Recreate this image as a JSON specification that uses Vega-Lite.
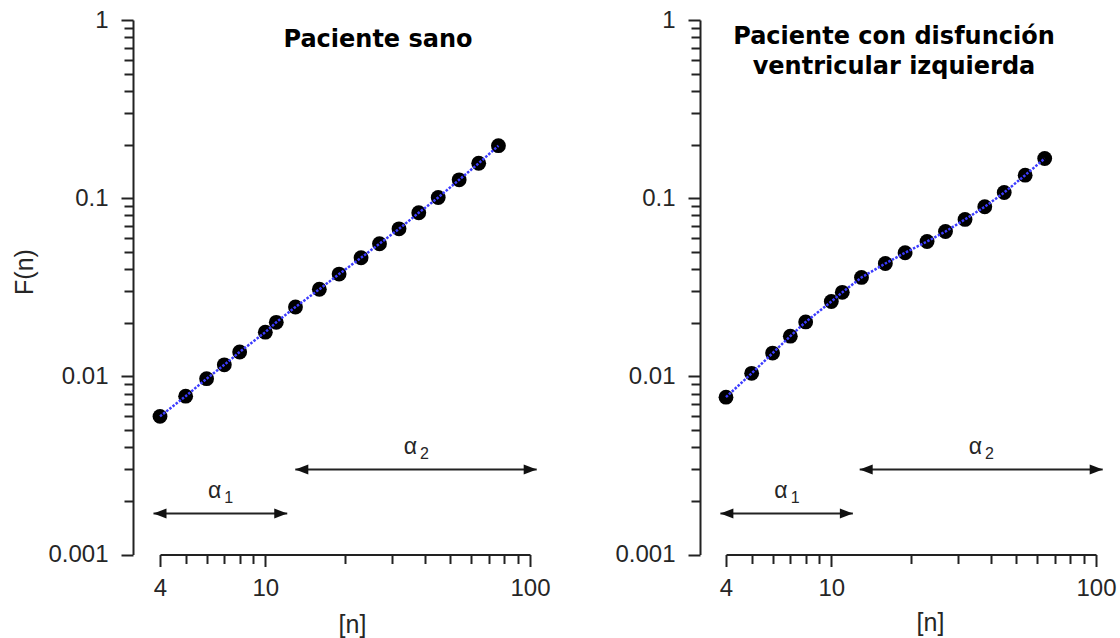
{
  "$schema": "https://vega.github.io/schema/vega-lite/v6.json",
  "background": "white",
  "padding": {"left": 12, "top": 8, "right": 0, "bottom": 0},
  "bounds": "flush",
  "spacing": 196,
  "config": {
    "view": {"stroke": null},
    "axis": {
      "grid": false,
      "domainColor": "#222222",
      "domainWidth": 2,
      "tickColor": "#222222",
      "tickWidth": 2,
      "labelFont": "Liberation Sans",
      "labelFontSize": 24,
      "labelColor": "#262626",
      "labelOverlap": false,
      "labelFlush": false,
      "labelBound": false,
      "titleFont": "Liberation Sans",
      "titleFontSize": 25,
      "titleFontWeight": "normal",
      "titleColor": "#262626"
    },
    "title": {
      "font": "DejaVu Sans",
      "fontSize": 24,
      "fontWeight": "bold",
      "color": "#000000",
      "anchor": "middle",
      "baseline": "alphabetic",
      "offset": 0,
      "lineHeight": 30
    }
  },
  "datasets": {
    "sano": [
      {"n": 4, "F": 0.00596}, {"n": 5, "F": 0.00774}, {"n": 6, "F": 0.0097},
      {"n": 7, "F": 0.0116}, {"n": 8, "F": 0.0137}, {"n": 10, "F": 0.0177},
      {"n": 11, "F": 0.0201}, {"n": 13, "F": 0.0245}, {"n": 16, "F": 0.0308},
      {"n": 19, "F": 0.0375}, {"n": 23, "F": 0.0463}, {"n": 27, "F": 0.0555},
      {"n": 32, "F": 0.0673}, {"n": 38, "F": 0.0828}, {"n": 45, "F": 0.1009},
      {"n": 54, "F": 0.1268}, {"n": 64, "F": 0.157}, {"n": 76, "F": 0.197}
    ],
    "disfuncion": [
      {"n": 4, "F": 0.00764}, {"n": 5, "F": 0.0104}, {"n": 6, "F": 0.0135},
      {"n": 7, "F": 0.0168}, {"n": 8, "F": 0.0202}, {"n": 10, "F": 0.0263},
      {"n": 11, "F": 0.0296}, {"n": 13, "F": 0.0359}, {"n": 16, "F": 0.043},
      {"n": 19, "F": 0.0494}, {"n": 23, "F": 0.0571}, {"n": 27, "F": 0.065},
      {"n": 32, "F": 0.076}, {"n": 38, "F": 0.0895}, {"n": 45, "F": 0.1076},
      {"n": 54, "F": 0.1346}, {"n": 64, "F": 0.167}
    ],
    "rangos_sano": [
      {"desde": 3.78, "hasta": 12.1, "F": 0.0017, "centro": 6.76, "sub": "1"},
      {"desde": 12.98, "hasta": 106, "F": 0.003, "centro": 37.1, "sub": "2"}
    ],
    "rangos_disfuncion": [
      {"desde": 3.81, "hasta": 12.06, "F": 0.0017, "centro": 6.78, "sub": "1"},
      {"desde": 12.8, "hasta": 106, "F": 0.003, "centro": 36.8, "sub": "2"}
    ]
  },
  "hconcat": [
    {
      "width": 370,
      "height": 534.5,
      "title": {"text": "Paciente sano", "dx": 33, "dy": 48},
      "layer": [
        {
          "data": {"name": "sano"},
          "mark": {"type": "point", "filled": true, "color": "#000000", "opacity": 1, "size": 220},
          "encoding": {
            "x": {
              "field": "n", "type": "quantitative",
              "scale": {"type": "log", "domain": [4, 100], "nice": false},
              "axis": {
                "title": "[n]",
                "values": [4, 5, 6, 7, 8, 9, 10, 20, 30, 40, 50, 60, 70, 80, 90, 100],
                "labelExpr": "datum.value == 4 ? '4' : datum.value == 10 ? '10' : datum.value == 100 ? '100' : ''",
                "tickSize": {"condition": {"test": "datum.value == 4 || datum.value == 10 || datum.value == 100", "value": 12}, "value": 9},
                "labelPadding": 10,
                "offset": 0,
                "titleX": 192,
                "titleY": 78,
                "titleBaseline": "alphabetic",
                "titleAlign": "center"
              }
            },
            "y": {
              "field": "F", "type": "quantitative",
              "scale": {"type": "log", "domain": [0.001, 1], "nice": false},
              "axis": {
                "title": "F(n)",
                "values": [0.001, 0.002, 0.003, 0.004, 0.005, 0.006, 0.007, 0.008, 0.009, 0.01, 0.02, 0.03, 0.04, 0.05, 0.06, 0.07, 0.08, 0.09, 0.1, 0.2, 0.3, 0.4, 0.5, 0.6, 0.7, 0.8, 0.9, 1],
                "labelExpr": "datum.value == 1 ? '1' : datum.value == 0.1 ? '0.1' : datum.value == 0.01 ? '0.01' : datum.value == 0.001 ? '0.001' : ''",
                "tickSize": {"condition": {"test": "datum.value == 1 || datum.value == 0.1 || datum.value == 0.01 || datum.value == 0.001", "value": 12}, "value": 9},
                "labelPadding": 13,
                "offset": 27,
                "titleX": -101,
                "titleY": 251.5,
                "titleAngle": -90,
                "titleBaseline": "alphabetic",
                "titleAlign": "center"
              }
            }
          }
        },
        {
          "data": {"name": "sano"},
          "mark": {"type": "line", "color": "#3c3cff", "strokeWidth": 2.5, "strokeDash": [2.5, 1.5]},
          "encoding": {
            "x": {"field": "n", "type": "quantitative"},
            "y": {"field": "F", "type": "quantitative"}
          }
        },
        {
          "data": {"name": "rangos_sano"},
          "mark": {"type": "rule", "color": "#222222", "strokeWidth": 2},
          "encoding": {
            "x": {"field": "desde", "type": "quantitative"},
            "x2": {"field": "hasta"},
            "y": {"field": "F", "type": "quantitative"}
          }
        },
        {
          "data": {"name": "rangos_sano"},
          "mark": {"type": "point", "shape": "M0,0L1,-0.38L1,0.38Z", "filled": true, "color": "#111111", "opacity": 1, "size": 676},
          "encoding": {
            "x": {"field": "desde", "type": "quantitative"},
            "y": {"field": "F", "type": "quantitative"}
          }
        },
        {
          "data": {"name": "rangos_sano"},
          "mark": {"type": "point", "shape": "M0,0L-1,-0.38L-1,0.38Z", "filled": true, "color": "#111111", "opacity": 1, "size": 676},
          "encoding": {
            "x": {"field": "hasta", "type": "quantitative"},
            "y": {"field": "F", "type": "quantitative"}
          }
        },
        {
          "data": {"name": "rangos_sano"},
          "mark": {"type": "text", "text": "α", "font": "Liberation Sans", "fontSize": 23, "color": "#262626", "align": "right", "baseline": "alphabetic", "dx": 1, "dy": -15},
          "encoding": {
            "x": {"field": "centro", "type": "quantitative"},
            "y": {"field": "F", "type": "quantitative"}
          }
        },
        {
          "data": {"name": "rangos_sano"},
          "mark": {"type": "text", "font": "Liberation Sans", "fontSize": 16, "color": "#262626", "align": "left", "baseline": "alphabetic", "dx": 4, "dy": -10},
          "encoding": {
            "x": {"field": "centro", "type": "quantitative"},
            "y": {"field": "F", "type": "quantitative"},
            "text": {"field": "sub"}
          }
        }
      ]
    },
    {
      "width": 370,
      "height": 534.5,
      "title": {"text": ["Paciente con disfunción", "ventricular izquierda"], "dx": -17, "dy": 74.5},
      "layer": [
        {
          "data": {"name": "disfuncion"},
          "mark": {"type": "point", "filled": true, "color": "#000000", "opacity": 1, "size": 220},
          "encoding": {
            "x": {
              "field": "n", "type": "quantitative",
              "scale": {"type": "log", "domain": [4, 100], "nice": false},
              "axis": {
                "title": "[n]",
                "values": [4, 5, 6, 7, 8, 9, 10, 20, 30, 40, 50, 60, 70, 80, 90, 100],
                "labelExpr": "datum.value == 4 ? '4' : datum.value == 10 ? '10' : datum.value == 100 ? '100' : ''",
                "tickSize": {"condition": {"test": "datum.value == 4 || datum.value == 10 || datum.value == 100", "value": 12}, "value": 9},
                "labelPadding": 10,
                "offset": 0,
                "titleX": 204,
                "titleY": 76,
                "titleBaseline": "alphabetic",
                "titleAlign": "center"
              }
            },
            "y": {
              "field": "F", "type": "quantitative",
              "scale": {"type": "log", "domain": [0.001, 1], "nice": false},
              "axis": {
                "title": null,
                "values": [0.001, 0.002, 0.003, 0.004, 0.005, 0.006, 0.007, 0.008, 0.009, 0.01, 0.02, 0.03, 0.04, 0.05, 0.06, 0.07, 0.08, 0.09, 0.1, 0.2, 0.3, 0.4, 0.5, 0.6, 0.7, 0.8, 0.9, 1],
                "labelExpr": "datum.value == 1 ? '1' : datum.value == 0.1 ? '0.1' : datum.value == 0.01 ? '0.01' : datum.value == 0.001 ? '0.001' : ''",
                "tickSize": {"condition": {"test": "datum.value == 1 || datum.value == 0.1 || datum.value == 0.01 || datum.value == 0.001", "value": 12}, "value": 9},
                "labelPadding": 13,
                "offset": 26
              }
            }
          }
        },
        {
          "data": {"name": "disfuncion"},
          "mark": {"type": "line", "color": "#3c3cff", "strokeWidth": 2.5, "strokeDash": [2.5, 1.5]},
          "encoding": {
            "x": {"field": "n", "type": "quantitative"},
            "y": {"field": "F", "type": "quantitative"}
          }
        },
        {
          "data": {"name": "rangos_disfuncion"},
          "mark": {"type": "rule", "color": "#222222", "strokeWidth": 2},
          "encoding": {
            "x": {"field": "desde", "type": "quantitative"},
            "x2": {"field": "hasta"},
            "y": {"field": "F", "type": "quantitative"}
          }
        },
        {
          "data": {"name": "rangos_disfuncion"},
          "mark": {"type": "point", "shape": "M0,0L1,-0.38L1,0.38Z", "filled": true, "color": "#111111", "opacity": 1, "size": 676},
          "encoding": {
            "x": {"field": "desde", "type": "quantitative"},
            "y": {"field": "F", "type": "quantitative"}
          }
        },
        {
          "data": {"name": "rangos_disfuncion"},
          "mark": {"type": "point", "shape": "M0,0L-1,-0.38L-1,0.38Z", "filled": true, "color": "#111111", "opacity": 1, "size": 676},
          "encoding": {
            "x": {"field": "hasta", "type": "quantitative"},
            "y": {"field": "F", "type": "quantitative"}
          }
        },
        {
          "data": {"name": "rangos_disfuncion"},
          "mark": {"type": "text", "text": "α", "font": "Liberation Sans", "fontSize": 23, "color": "#262626", "align": "right", "baseline": "alphabetic", "dx": 1, "dy": -15},
          "encoding": {
            "x": {"field": "centro", "type": "quantitative"},
            "y": {"field": "F", "type": "quantitative"}
          }
        },
        {
          "data": {"name": "rangos_disfuncion"},
          "mark": {"type": "text", "font": "Liberation Sans", "fontSize": 16, "color": "#262626", "align": "left", "baseline": "alphabetic", "dx": 4, "dy": -10},
          "encoding": {
            "x": {"field": "centro", "type": "quantitative"},
            "y": {"field": "F", "type": "quantitative"},
            "text": {"field": "sub"}
          }
        }
      ]
    }
  ]
}
